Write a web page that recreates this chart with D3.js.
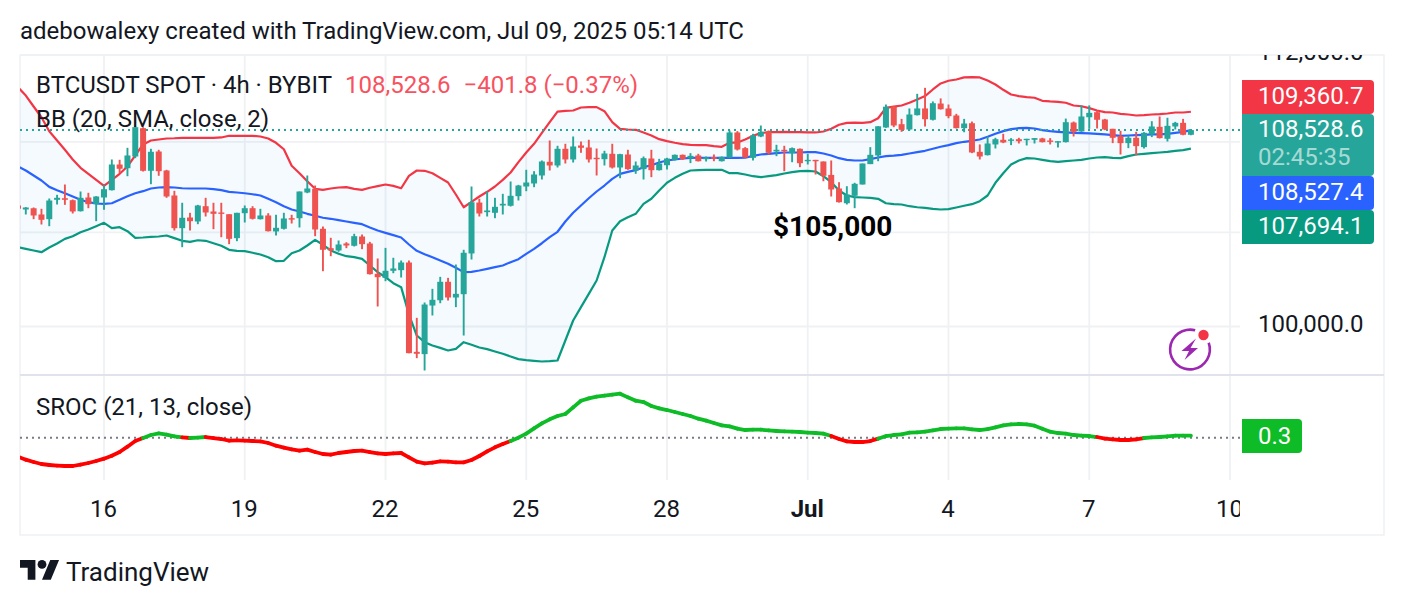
<!DOCTYPE html>
<html>
<head>
<meta charset="utf-8">
<title>BTCUSDT SPOT 4h</title>
<script src="https://cdn.jsdelivr.net/npm/d3@7/dist/d3.min.js"></script>
<style>
html,body{margin:0;padding:0;background:#fff;}
svg{display:block;}
text{font-family:Roboto,sans-serif;fill:#131722;}
</style>
</head>
<body>
<svg id="chart" width="1404" height="606"></svg>
<script>
// Four-hour BTCUSDT candles, indexed from the 16 June 00:00 bar (first bar is index -11).
const firstBar = -11;
const opens = [
105170,104996,105050,104778,104573,105420,105490,105403,104921,105522,
105228,105522,105843,106983,106818,107340,108615,106703,107564,106716,
105610,104182,104647,104473,105140,104908,104865,104790,103750,104834,
105053,104573,104734,104040,104155,104616,104616,105742,105905,104155,
103317,103218,103519,103420,103821,103519,102220,102048,102348,102375,
102703,98950,98855,100878,101100,101880,101215,101355,103090,105300,
104880,104851,105171,105158,105580,106007,106140,106494,107104,106939,
107685,107207,107834,107744,107282,107220,107460,106850,107430,106716,
106775,107250,106730,106950,107190,107415,107265,107386,107220,107310,
107130,107295,108420,107715,107282,108239,108465,107565,107640,107490,
107685,107130,107190,107117,106520,105918,105270,105597,106095,107000,
107386,108645,109590,108795,108555,109205,109510,108995,109735,109510,
109190,108615,108840,107550,107400,107880,108090,108045,108117,108090,
108090,108150,108058,107985,107985,108870,108465,109110,109340,109010,
108585,108250,107940,108180,107760,108330,108675,108135,108691,108855,108315];
const highs = [
105215,105100,105083,105026,105478,105640,106095,105434,105786,105729,
105580,106095,107207,107193,107730,108700,108660,107685,107640,106747,
105817,105290,104851,105200,105508,105290,105290,104790,104851,105171,
105140,105026,104834,104765,104851,104765,105786,106494,106050,104255,
103765,103648,103575,103937,103908,103590,102875,103330,102905,102788,
102788,100362,101005,101582,102090,102048,102617,103248,106007,105465,
105786,105508,105683,106228,106080,106747,106685,107162,108058,107820,
107910,108239,108013,108090,107699,107595,107910,107460,107640,107117,
107340,107640,107235,107282,107430,107430,107490,107460,107340,107430,
107340,108510,108480,107760,108360,108735,108510,107865,107820,107744,
107699,107460,107190,107117,107162,106197,106020,106170,107027,107760,
108705,109690,109620,109035,109510,110180,110455,109830,109970,109690,
109265,109035,108915,107880,108239,108180,108360,108165,108180,108135,
108165,108180,108165,108027,109050,108915,109650,109650,109400,109035,
108585,108495,108284,108450,108435,108930,109145,109085,108900,109035,108540];
const lows = [
104950,104778,104573,104342,104268,105215,105200,104821,104908,105053,
104486,104983,105830,106596,106462,107266,106670,106108,106480,105508,
104081,103360,104081,104355,104690,104138,103790,103490,103618,104429,
104560,104560,104040,103865,104124,104385,104212,105712,103835,102331,
102973,103162,103317,103390,103275,102190,100837,101905,102245,102063,
98890,98690,98183,100460,100975,101089,100810,99625,102830,104690,
104690,104616,104778,105127,105390,105800,105976,106316,106716,106850,
107027,107072,107505,107072,106494,106939,106805,106374,106747,106568,
106316,106420,106716,106760,107162,107190,107045,107117,107117,107130,
107117,107282,107609,107282,107162,108210,107430,107355,106685,107085,
106865,106983,106538,106240,105566,105300,105215,105053,106095,107000,
107130,108630,108660,108450,108510,109190,108690,108962,109460,109065,
108600,108430,107490,107207,107386,107699,107940,107850,107924,107834,
107924,107970,107880,107744,107970,108239,108450,108585,108600,108525,
107940,107430,107715,107386,107699,108210,108150,108013,108555,108295,108295];
const closes = [
105030,105083,104734,104546,105390,105508,105420,104908,105508,105228,
105566,105887,106983,106792,107386,108660,106703,107551,106685,105566,
104182,104634,104486,105171,104865,104807,104807,103720,104851,105053,
104590,104734,104050,104198,104603,104573,105786,105918,104124,103248,
103218,103476,103433,103835,103490,102203,102075,102348,102447,102703,
98895,98870,100920,101118,101880,101215,101370,103120,105315,104821,
104952,105113,105245,105597,106050,106183,106538,107117,106939,107685,
107207,107789,107730,107207,107220,107475,106850,107445,106775,106939,
107265,106730,107027,107250,107415,107220,107370,107130,107295,107235,
107325,108420,107654,107295,108284,108450,107505,107640,107580,107715,
107040,107190,107150,106480,105875,105315,105654,106125,107027,107415,
108700,109590,108735,108540,109235,109510,109020,109750,109475,109160,
108615,108825,107520,107340,107924,108117,107970,108105,108027,108135,
108165,107985,108013,108027,108885,108450,109145,109310,108995,108555,
108180,107940,108180,107805,108405,108691,108165,108720,108855,108315,108528.6];

// Bollinger Bands (20, SMA, close, 2), one value per bar.
const upperBand = [
110485,110100,109600,109110,108475,108058,107640,107207,106835,106568,
106300,106035,106300,106568,106894,107386,107880,108058,108103,108148,
108160,108180,108180,108180,108180,108180,108195,108270,108270,108270,
108270,108239,108148,107955,107665,106925,106596,106240,105905,105860,
105918,105962,105976,105905,105860,105950,106020,106095,106035,105930,
106480,106716,106703,106596,106390,106183,105654,105095,105333,105566,
105772,106007,106300,106627,107087,107520,107910,108405,108885,109370,
109400,109417,109555,109570,109570,109385,108885,108585,108555,108540,
108420,108284,108117,108027,107955,107895,107865,107850,107850,107805,
107775,107955,107970,108103,108270,108390,108435,108435,108450,108435,
108435,108420,108420,108465,108585,108770,108855,108870,108855,108885,
109065,109540,109590,109645,109770,109920,110075,110380,110655,110780,
110840,110935,110950,110935,110794,110610,110365,110150,110075,110028,
110000,109860,109830,109815,109770,109645,109610,109525,109417,109340,
109325,109265,109235,109190,109205,109235,109250,109280,109325,109325,109360.7];
const basisBand = [
106894,106716,106494,106272,105990,105845,105710,105566,105420,105315,
105258,105245,105270,105420,105580,105710,105800,105918,105962,105976,
105962,105930,105918,105918,105918,105887,105845,105772,105742,105710,
105665,105610,105465,105315,105140,104996,104908,104807,104720,104634,
104590,104530,104472,104415,104355,104212,104081,103980,103880,103778,
103476,103205,103060,102930,102788,102650,102475,102290,102305,102361,
102433,102505,102575,102717,102845,103075,103290,103530,103792,104025,
104472,104851,105171,105490,105786,106050,106347,106568,106657,106730,
106863,106950,107072,107162,107207,107250,107282,107285,107282,107280,
107282,107280,107282,107285,107370,107430,107460,107490,107520,107520,
107520,107535,107535,107475,107386,107265,107190,107162,107162,107220,
107295,107355,107375,107415,107475,107535,107595,107685,107775,107850,
107940,108000,108045,108103,108225,108360,108480,108570,108615,108630,
108600,108525,108480,108450,108420,108405,108390,108375,108360,108330,
108300,108270,108284,108300,108315,108330,108330,108360,108405,108450,108527.4];
const lowerBand = [
103360,103290,103218,103145,103345,103519,103720,103835,104008,104124,
104268,104415,104182,104225,104050,103765,103778,103808,103821,103865,
103750,103635,103590,103660,103635,103530,103420,103248,103205,103188,
103120,103045,102930,102760,102775,103100,103218,103433,103678,103463,
103218,103075,102973,102930,102860,102575,102290,102075,101820,101652,
100500,99625,99348,99210,99115,99005,99075,99348,99240,99127,
99060,98964,98870,98760,98650,98608,98580,98553,98566,98594,
99418,100250,100810,101370,101935,102930,104081,104486,104660,104807,
105245,105465,105830,106170,106390,106568,106716,106730,106747,106747,
106747,106596,106596,106538,106462,106420,106462,106507,106582,106640,
106685,106703,106670,106462,106197,105830,105610,105537,105522,105508,
105465,105270,105228,105215,105140,105095,105070,105026,104996,105010,
105083,105158,105228,105360,105610,106170,106596,106983,107162,107265,
107250,107190,107130,107100,107130,107162,107190,107250,107295,107310,
107282,107265,107355,107430,107460,107490,107520,107550,107595,107625,107694.1];

// SROC (21, 13, close), one value per bar.
const srocValues = [
-2.85,-3.3,-3.65,-3.95,-4.1,-4.2,-4.25,-4.25,-4.05,-3.8,
-3.5,-3.15,-2.7,-2.15,-1.35,-0.5,-0.05,0.4,0.65,0.45,
0.2,0.05,-0.05,0,0.1,-0.05,-0.2,-0.45,-0.4,-0.45,
-0.5,-0.55,-0.8,-1.2,-1.5,-1.75,-1.95,-1.8,-2.15,-2.45,
-2.55,-2.3,-2.15,-2,-1.95,-2.15,-2.35,-2.45,-2.35,-2.3,
-2.95,-3.6,-3.85,-3.75,-3.55,-3.6,-3.7,-3.7,-3.35,-2.75,
-2.05,-1.45,-0.95,-0.5,0,0.6,1.4,2.15,2.75,3.25,
3.55,4.55,5.55,5.9,6.15,6.3,6.45,6.6,6.05,5.55,
5.35,4.75,4.4,4.15,3.85,3.55,3.25,2.85,2.55,2.2,
1.85,1.7,1.35,1.15,1.2,1.2,1.1,1,0.95,0.9,
0.85,0.75,0.7,0.6,0.25,-0.2,-0.55,-0.65,-0.65,-0.5,
-0.15,0.25,0.4,0.5,0.75,0.8,0.9,1.1,1.3,1.35,
1.4,1.4,1.25,1.15,1.3,1.55,1.85,2,2.05,2,
1.8,1.35,0.9,0.7,0.6,0.4,0.3,0.25,0.1,-0.15,
-0.25,-0.35,-0.35,-0.25,-0.05,0.05,0.1,0.2,0.3,0.3,0.3];

// Axis ticks.
const timeTickBars = [0,18,36,54,72,90,108,126,144];
const timeTickLabels = ["16","19","22","25","28","Jul","4","7","10"];
const priceTicks = [100000,104000,108000,112000];
const priceTickLabels = [100000,112000];

const colors = {
  up:"#26a69a", down:"#ef5350", upperLine:"#f23645", basisLine:"#2962ff", lowerLine:"#089981",
  fill:"rgba(33,150,243,0.05)", grid:"#f0f1f3", divider:"#e0e3eb",
  srocUp:"#0dbc26", srocDown:"#ff0000", zero:"#787b86"
};

const svg = d3.select("#chart");
const fmtPrice = d3.format(",.1f");
const bars = d3.range(opens.length);
const barNo = i => firstBar + i;

// Pane geometry.
const plotLeft = 20, plotRight = 1240, frameRight = 1384, plotTop = 55, paneDivide = 375, lowerEnd = 480, frameBottom = 535;
const fontSize = 24;

const x = d3.scaleLinear().domain([0,144]).range([104,1230]);
const y = d3.scaleLog().domain([100000,112000]).range([326.5,54.5]);
const ySroc = d3.scaleLinear().domain([-4.25,6.6]).range([466,393.7]);

const defs = svg.append("defs");
defs.append("clipPath").attr("id","mainClip").append("rect")
  .attr("x",plotLeft).attr("y",plotTop).attr("width",plotRight-plotLeft).attr("height",paneDivide-plotTop);
defs.append("clipPath").attr("id","lowClip").append("rect")
  .attr("x",plotLeft).attr("y",paneDivide).attr("width",plotRight-plotLeft).attr("height",lowerEnd-paneDivide);
defs.append("clipPath").attr("id","timeClip").append("rect")
  .attr("x",plotLeft).attr("y",480).attr("width",plotRight-plotLeft).attr("height",55);
defs.append("clipPath").attr("id","priceClip").append("rect")
  .attr("x",plotRight).attr("y",plotTop).attr("width",frameRight-plotRight).attr("height",paneDivide-plotTop);

// Heading line.
svg.append("text").attr("x",20).attr("y",39).attr("font-size",fontSize).text("adebowalexy created with TradingView.com, Jul 09, 2025 05:14 UTC");

// Grid.
const grid = svg.append("g");
grid.selectAll("line.v").data(timeTickBars).join("line").attr("class","v")
  .attr("x1",d=>x(d)).attr("x2",d=>x(d)).attr("y1",plotTop).attr("y2",lowerEnd)
  .attr("stroke",colors.grid).attr("stroke-width",1.8);
grid.selectAll("line.h").data(priceTicks).join("line").attr("class","h")
  .attr("x1",plotLeft).attr("x2",plotRight).attr("y1",d=>Math.max(y(d),plotTop)).attr("y2",d=>Math.max(y(d),plotTop))
  .attr("stroke",colors.grid).attr("stroke-width",1.8);

// Frame and pane divider.
const frame = svg.append("g").attr("fill","none");
frame.append("path").attr("d",`M${plotLeft} ${plotTop}V${frameBottom}H${frameRight}V${plotTop}H${plotRight}`)
  .attr("stroke",colors.grid).attr("stroke-width",1.5);
frame.append("line").attr("x1",plotLeft).attr("x2",frameRight).attr("y1",paneDivide).attr("y2",paneDivide)
  .attr("stroke",colors.divider).attr("stroke-width",2);

// Main pane: bands under candles.
const main = svg.append("g").attr("clip-path","url(#mainClip)");
const xb = i => x(barNo(i));
main.append("path").datum(bars).attr("fill",colors.fill)
  .attr("d",d3.area().x(xb).y0(i=>y(lowerBand[i])).y1(i=>y(upperBand[i])));
[[upperBand,colors.upperLine],[basisBand,colors.basisLine],[lowerBand,colors.lowerLine]].forEach(([vals,col])=>{
  main.append("path").datum(bars).attr("fill","none").attr("stroke",col).attr("stroke-width",2.2)
    .attr("stroke-linejoin","round")
    .attr("d",d3.line().x(xb).y(i=>y(vals[i])));
});

// Last-price line.
const lastClose = closes[closes.length-1];
main.append("line").attr("x1",plotLeft).attr("x2",plotRight).attr("y1",y(lastClose)).attr("y2",y(lastClose))
  .attr("stroke",colors.up).attr("stroke-width",2).attr("stroke-dasharray","2 4");

// Candles.
const candles = main.append("g").selectAll("g").data(bars).join("g")
  .attr("fill",i=>closes[i]>=opens[i]?colors.up:colors.down);
const bodyW = 6, wickW = 1.9;
candles.append("rect").attr("x",i=>xb(i)-wickW/2).attr("width",wickW)
  .attr("y",i=>y(highs[i])).attr("height",i=>y(lows[i])-y(highs[i]));
candles.append("rect").attr("x",i=>xb(i)-bodyW/2).attr("width",bodyW)
  .attr("y",i=>y(Math.max(opens[i],closes[i])))
  .attr("height",i=>Math.max(1.4,Math.abs(y(opens[i])-y(closes[i]))));

// Legends.
const head = svg.append("text").attr("x",36).attr("y",93).attr("font-size",fontSize);
head.append("tspan").text("BTCUSDT SPOT · 4h · BYBIT");
head.append("tspan").attr("dx",13).style("fill","#f7525f").text("108,528.6");
head.append("tspan").attr("dx",13).style("fill","#f7525f").text("−401.8 (−0.37%)");
svg.append("text").attr("x",36).attr("y",127).attr("font-size",fontSize).text("BB (20, SMA, close, 2)");
svg.append("text").attr("x",36).attr("y",415).attr("font-size",fontSize).text("SROC (21, 13, close)");

// Price annotation.
svg.append("text").attr("x",773).attr("y",236).attr("font-size",28).attr("font-weight",700).style("fill","#000").text("$105,000");

// Lower pane: zero line and two-coloured SROC.
const low = svg.append("g").attr("clip-path","url(#lowClip)");
low.append("line").attr("x1",plotLeft).attr("x2",plotRight).attr("y1",ySroc(0)).attr("y2",ySroc(0))
  .attr("stroke",colors.zero).attr("stroke-width",2).attr("stroke-dasharray","2 4");
const srocLine = d3.line().x(xb).y(i=>ySroc(srocValues[i]));
low.selectAll("path.seg").data(bars.slice(1)).join("path").attr("class","seg")
  .attr("fill","none").attr("stroke-width",3.8).attr("stroke-linecap","round")
  .attr("stroke",i=>srocValues[i]>=0?colors.srocUp:colors.srocDown)
  .attr("d",i=>srocLine([i-1,i]));

// Axes.
const timeAxis = d3.axisBottom(x).tickValues(timeTickBars)
  .tickFormat((d,i)=>timeTickLabels[i]).tickSize(0).tickPadding(0);
const tg = svg.append("g").attr("clip-path","url(#timeClip)").append("g")
  .attr("transform","translate(-1,517)").call(timeAxis);
tg.select(".domain").remove();
tg.attr("font-family",null);
tg.selectAll("text").attr("font-size",fontSize).attr("dy",0).attr("y",0)
  .attr("font-weight",(d,i)=>timeTickLabels[i]==="Jul"?700:400);

const priceAxis = d3.axisRight(y).tickValues(priceTickLabels).tickFormat(fmtPrice).tickSize(0).tickPadding(0);
const pg = svg.append("g").attr("clip-path","url(#priceClip)").append("g")
  .attr("transform","translate(1258,-3)").call(priceAxis);
pg.select(".domain").remove();
pg.attr("font-family",null);
pg.selectAll("text").attr("font-size",fontSize);

// Price badges: rectangles rounded on their right edge.
function badge(x0,y0,w,h,r,fill){
  const p = d3.path();
  p.moveTo(x0,y0); p.lineTo(x0+w-r,y0); p.arcTo(x0+w,y0,x0+w,y0+r,r);
  p.lineTo(x0+w,y0+h-r); p.arcTo(x0+w,y0+h,x0+w-r,y0+h,r); p.lineTo(x0,y0+h); p.closePath();
  svg.append("path").attr("d",p.toString()).attr("fill",fill);
}
function badgeText(t,yBase,op){
  svg.append("text").attr("x",1258).attr("y",yBase).attr("font-size",fontSize)
    .style("fill","#fff").style("fill-opacity",op||1).text(t);
}
const upperLast = upperBand[upperBand.length-1], basisLast = basisBand[basisBand.length-1], lowerLast = lowerBand[lowerBand.length-1];
badge(1242,80,132,34,4,colors.upperLine); badgeText(fmtPrice(upperLast),103.5);
badge(1242,114,132,62,4,colors.up); badgeText(fmtPrice(lastClose),137); badgeText("02:45:35",165,0.6);
badge(1242,176,132,34,4,colors.basisLine); badgeText(fmtPrice(basisLast),200);
badge(1242,210,132,34,4,colors.lowerLine); badgeText(fmtPrice(lowerLast),234);
badge(1242,419,60,34,4,colors.srocUp);
svg.append("text").attr("x",1258).attr("y",444).attr("font-size",fontSize).style("fill","#fff")
  .text(d3.format(".1f")(srocValues[srocValues.length-1]));

// Replay badge.
const deg = Math.PI/180;
const bolt = svg.append("g").attr("transform","translate(1190,349.5)").attr("fill","#9c27b0");
bolt.append("path").attr("d",d3.arc().innerRadius(18.6).outerRadius(21.2).startAngle(70*deg).endAngle(375*deg)());
bolt.append("path").attr("d","M6 -11 L-8.5 1.5 L-1 1.5 L-5.5 10.5 L8 -1.5 L0.5 -1.5 Z");
bolt.append("circle").attr("cx",13.5).attr("cy",-14.5).attr("r",5.2).attr("fill","#f23645");

// Footer brand mark.
const logo = svg.append("g").attr("transform","translate(20,555.6) scale(1.1)").attr("fill","#131722");
logo.append("path").attr("d","M14 22H7V11H0V4h14v18zM28 22h-8l7.5-18h8L28 22z");
logo.append("circle").attr("cx",20).attr("cy",8).attr("r",4);
svg.append("text").attr("x",66).attr("y",581).attr("font-size",26).text("TradingView");
</script>
</body>
</html>
